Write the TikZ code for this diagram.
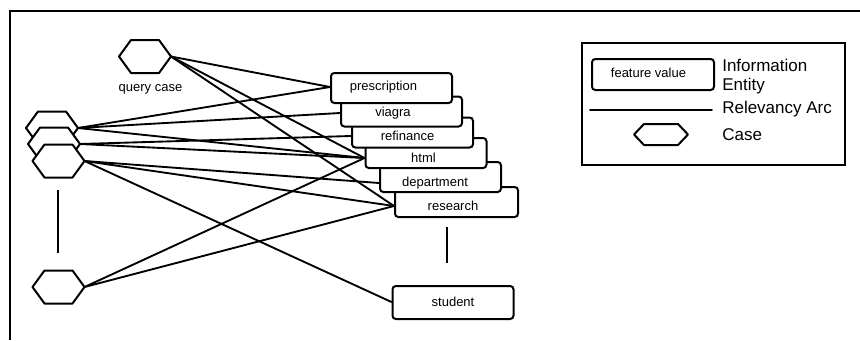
\documentclass[tikz,border=0pt]{standalone}
\usepackage{fontspec}
\setmainfont{Liberation Sans}
\usetikzlibrary{backgrounds}

% one hexagonal case: name of its right vertex, centre x, centre y
\newcommand\hexcase[3]{%
  \draw[casehex] (#2-26,#3) -- (#2-14,#3-16.5) -- (#2+14,#3-16.5) -- (#2+26,#3)
    -- (#2+14,#3+16.5) -- (#2-14,#3+16.5) -- cycle;
  \coordinate (#1) at (#2+26,#3);}

\tikzset{
  relarc/.style={line width=1.4pt, line cap=round},
  feat/.style={draw, line width=1.5pt, fill=white, rounded corners=2.5pt,
    minimum width=90.75pt, minimum height=22.5pt, inner sep=0pt},
  flabel/.style={font=\fontsize{9.75pt}{11pt}\selectfont, inner sep=0pt},
  casehex/.style={draw, line width=1.5pt, fill=white, line join=round},
  legtext/.style={font=\fontsize{12.75pt}{14pt}\selectfont, anchor=west, inner sep=0pt},
}

\begin{document}
\begin{tikzpicture}[x=0.75pt, y=-0.75pt]
\useasboundingbox (0,0) rectangle (860,340);

% outer frame
\draw[line width=1.4pt] (10,340) -- (10,11) -- (860,11);

% information entities, lowest first so the upper ones overlap them
\node[feat, minimum width=92.25pt] (research) at (456.5,202) {};
\node[feat] (department) at (440.5,177) {};
\node[feat] (html) at (426,153) {};
\node[feat] (refinance) at (412.5,132.5) {};
\node[feat] (viagra) at (401.5,111.5) {};
\node[feat] (prescription) at (391.5,88) {};
\node[feat, minimum height=24.75pt] (student) at (453,302.5) {};

\node[flabel] (t-pres) at (383.5,87) {prescription};
\node[flabel] (t-viagra) at (393,113) {viagra};
\node[flabel] (t-refi) at (407.5,136) {refinance};
\node[flabel] (t-html) at (423.5,158) {html};
\node[flabel] (t-dept) at (435,183) {department};
\node[flabel] (t-res) at (453,206) {research};
\node[flabel] (t-stud) at (453,302) {student};

% cases
\hexcase{c1}{52}{128}
\hexcase{c2}{54}{144}
\hexcase{c3}{58.5}{161}
\hexcase{c4}{58.5}{287}
\hexcase{q}{145}{56.5}
\node[flabel] (qlabel) at (150.5,89) {query case};

% ellipsis marks
\draw[line width=1.2pt] (58,190) -- (58,253);
\draw[line width=1.2pt] (447,227) -- (447,263);

% relevancy arcs
\begin{scope}[on background layer]
  \draw[relarc] (q) -- (prescription.west |- t-pres);
  \draw[relarc] (q) -- (html.west |- t-html);
  \draw[relarc] (q) -- (research.west |- t-res);
  \draw[relarc] (c1) -- (prescription.west |- t-pres);
  \draw[relarc] (c1) -- (viagra.west |- t-viagra);
  \draw[relarc] (c1) -- (html.west |- t-html);
  \draw[relarc] (c2) -- (refinance.west |- t-refi);
  \draw[relarc] (c2) -- (html.west |- t-html);
  \draw[relarc] (c3) -- (department.west |- t-dept);
  \draw[relarc] (c3) -- (research.west |- t-res);
  \draw[relarc] (c3) -- (student.west |- t-stud);
  \draw[relarc] (c4) -- (html.west |- t-html);
  \draw[relarc] (c4) -- (research.west |- t-res);
\end{scope}

% legend
\draw[line width=1.4pt] (582,43) rectangle (845,165);
\node[feat, minimum width=91.5pt, minimum height=23.25pt] (legbox) at (653,74.5) {};
\node[flabel] (legboxtext) at (648.5,73) {feature value};
\node[legtext] (leg-info) at (722,65) {Information};
\node[legtext] (leg-entity) at (722,86) {Entity};
\coordinate (la) at (590,110);
\coordinate (lb) at (712,110);
\draw[relarc] (la) -- (lb);
\node[legtext] (leg-arc) at (722,109) {Relevancy Arc};
\draw[casehex] (634,134.5) -- (644,124) -- (678,124) -- (688,134.5)
  -- (678,145) -- (644,145) -- cycle;
\node[legtext] (leg-case) at (722,135) {Case};
\end{tikzpicture}
\end{document}
